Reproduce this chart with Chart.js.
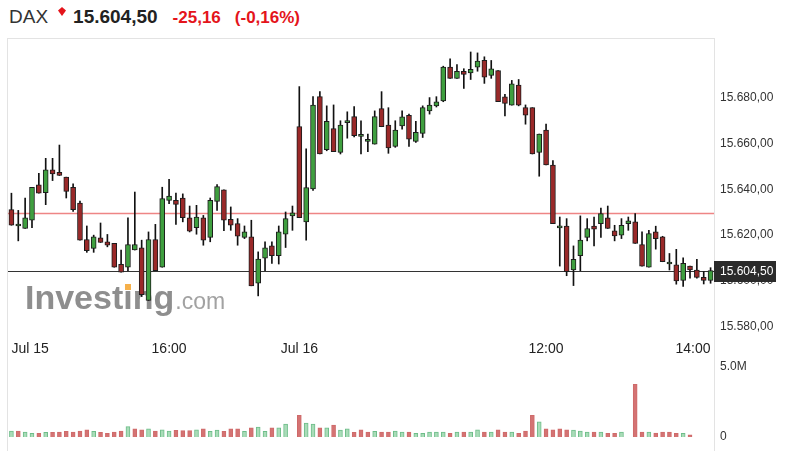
<!DOCTYPE html>
<html>
<head>
<meta charset="utf-8">
<title>DAX</title>
<script src="https://cdn.jsdelivr.net/npm/chart.js@4.4.1/dist/chart.umd.min.js"></script>
<style>
  html, body { margin: 0; padding: 0; background: #fff; }
  body { width: 788px; height: 451px; position: relative; overflow: hidden; font-family: "Liberation Sans", Arial, sans-serif; }
  #frame { position: absolute; left: 7px; top: 38px; width: 706px; height: 420px; border: 1px solid #e3e3e3; border-bottom: none; }
  #title { position: absolute; left: 9px; top: 6px; display: flex; align-items: baseline; white-space: nowrap; line-height: 22px; }
  #title .sym { font-size: 19px; color: #333; }
  #title .last { font-size: 19px; font-weight: bold; color: #222; margin-left: 25px; }
  #title .chg { font-size: 17px; font-weight: bold; color: #e4141b; margin-left: 15px; }
  #title .pct { margin-left: 14px; }
  #arrow { position: absolute; left: 58px; top: 7px; width: 8px; height: 9px; background: #e4141b;
           clip-path: polygon(50% 0, 100% 40%, 50% 100%, 0 40%); }
  canvas { position: absolute; left: 0; }
  #price { top: 0; }
  #vol { top: 352px; }
</style>
</head>
<body>
<div id="frame"></div>
<div id="title">
  <span class="sym">DAX</span>
  <span class="last">15.604,50</span>
  <span class="chg">-25,16</span>
  <span class="chg pct">(-0,16%)</span>
</div>
<div id="arrow"></div>
<canvas id="price" width="788" height="362"></canvas>
<canvas id="vol" width="788" height="99"></canvas>
<script>
// 5 minute candles
var times15 = ['14:05','14:10','14:15','14:20','14:25','14:30','14:35','14:40','14:45','14:50','14:55',
  '15:00','15:05','15:10','15:15','15:20','15:25','15:30','15:35','15:40','15:45','15:50','15:55',
  '16:00','16:05','16:10','16:15','16:20','16:25','16:30','16:35','16:40','16:45','16:50','16:55',
  '17:00','17:05','17:10','17:15','17:20','17:25','17:30'];
var times16 = ['09:00','09:05','09:10','09:15','09:20','09:25','09:30','09:35','09:40','09:45','09:50','09:55',
  '10:00','10:05','10:10','10:15','10:20','10:25','10:30','10:35','10:40','10:45','10:50','10:55',
  '11:00','11:05','11:10','11:15','11:20','11:25','11:30','11:35','11:40','11:45','11:50','11:55',
  '12:00','12:05','12:10','12:15','12:20','12:25','12:30','12:35','12:40','12:45','12:50','12:55',
  '13:00','13:05','13:10','13:15','13:20','13:25','13:30','13:35','13:40','13:45','13:50','13:55',
  '14:00'];

var open = [15631.1, 15624.0, 15622.9, 15626.5, 15642.0, 15638.5, 15648.5, 15647.4, 15645.3, 15640.9,
  15634.0, 15618.1, 15614.2, 15618.8, 15617.1, 15616.4, 15607.3, 15606.0, 15613.5, 15614.5,
  15591.5, 15618.1, 15606.0, 15635.2, 15635.2, 15636.2, 15627.5, 15623.3, 15627.5, 15619.0,
  15634.7, 15639.8, 15626.9, 15625.0, 15619.0, 15619.3, 15599.0, 15609.9, 15615.3, 15611.0,
  15620.4, 15628.4, 15667.4, 15625.8, 15640.2, 15680.4, 15657.3, 15666.5, 15656.1, 15669.1,
  15671.7, 15663.1, 15660.9, 15659.7, 15675.2, 15668.0, 15658.7, 15667.7, 15672.3, 15660.9,
  15664.4, 15674.2, 15676.4, 15678.5, 15693.3, 15688.4, 15691.5, 15690.8, 15693.3, 15696.3,
  15689.7, 15691.8, 15680.3, 15676.7, 15685.5, 15675.6, 15675.6, 15656.1, 15665.8, 15650.6,
  15623.2, 15624.0, 15604.8, 15611.0, 15619.0, 15624.0, 15625.0, 15627.5, 15621.9, 15620.0,
  15625.0, 15625.8, 15615.9, 15606.0, 15621.4, 15619.3, 15607.4, 15607.0, 15600.2, 15606.5,
  15604.8, 15601.6, 15600.2];
var high = [15638.3, 15630.8, 15636.2, 15640.9, 15647.0, 15653.5, 15653.5, 15659.3, 15645.3, 15642.4,
  15634.9, 15624.0, 15620.0, 15625.3, 15620.3, 15616.4, 15613.5, 15627.5, 15638.8, 15617.8,
  15621.4, 15624.7, 15640.9, 15644.3, 15638.3, 15638.0, 15632.7, 15633.0, 15628.6, 15636.2,
  15642.1, 15639.8, 15632.3, 15627.2, 15624.0, 15626.5, 15612.7, 15617.1, 15617.1, 15624.0,
  15630.1, 15632.7, 15684.8, 15657.6, 15680.4, 15682.6, 15676.4, 15676.8, 15669.9, 15673.8,
  15676.1, 15669.9, 15664.1, 15674.2, 15682.6, 15675.6, 15669.9, 15674.2, 15672.8, 15669.6,
  15676.4, 15680.0, 15680.4, 15693.7, 15696.9, 15694.4, 15692.6, 15699.9, 15699.5, 15697.8,
  15696.2, 15691.8, 15681.4, 15687.5, 15687.9, 15676.8, 15675.6, 15664.1, 15668.4, 15652.5,
  15627.9, 15627.2, 15615.3, 15628.4, 15627.2, 15627.9, 15631.8, 15632.7, 15624.3, 15627.2,
  15627.9, 15629.4, 15621.4, 15622.1, 15623.9, 15619.5, 15612.0, 15613.8, 15610.1, 15606.5,
  15609.4, 15604.1, 15605.8];
var low = [15624.3, 15617.5, 15622.9, 15623.3, 15638.3, 15633.3, 15643.8, 15646.0, 15636.2, 15630.4,
  15617.8, 15612.5, 15612.5, 15616.8, 15614.9, 15606.0, 15603.8, 15604.5, 15613.5, 15593.2,
  15591.5, 15604.5, 15606.0, 15633.7, 15624.7, 15625.8, 15621.4, 15620.4, 15615.6, 15617.1,
  15630.8, 15621.9, 15622.1, 15615.6, 15618.5, 15597.9, 15593.5, 15604.5, 15607.7, 15607.4,
  15614.6, 15622.1, 15627.6, 15617.8, 15639.5, 15655.4, 15656.8, 15656.4, 15655.4, 15662.3,
  15662.9, 15655.4, 15656.4, 15659.7, 15667.3, 15655.7, 15658.3, 15666.2, 15658.7, 15660.5,
  15662.6, 15672.8, 15675.9, 15678.2, 15688.4, 15688.4, 15684.0, 15687.9, 15691.5, 15686.2,
  15688.4, 15678.2, 15672.0, 15676.7, 15676.4, 15668.4, 15655.4, 15645.7, 15650.6, 15625.0,
  15606.5, 15602.3, 15598.0, 15604.5, 15617.5, 15615.3, 15619.0, 15622.9, 15617.5, 15618.5,
  15622.1, 15616.4, 15606.5, 15606.0, 15613.9, 15608.4, 15604.8, 15598.6, 15597.6, 15601.2,
  15601.2, 15598.7, 15599.0];
var close = [15624.3, 15624.5, 15627.5, 15640.9, 15638.3, 15648.5, 15646.7, 15646.0, 15639.1, 15631.1,
  15617.8, 15613.2, 15619.3, 15616.8, 15615.6, 15606.0, 15603.8, 15615.9, 15615.9, 15594.0,
  15618.1, 15604.5, 15635.9, 15637.0, 15633.4, 15627.6, 15621.7, 15627.9, 15617.8, 15635.2,
  15641.2, 15626.5, 15624.3, 15619.5, 15621.4, 15597.9, 15609.6, 15614.5, 15611.0, 15621.4,
  15627.2, 15629.7, 15627.6, 15640.7, 15676.7, 15655.4, 15669.6, 15656.4, 15668.0, 15669.6,
  15663.4, 15663.3, 15661.5, 15671.7, 15667.3, 15658.0, 15665.8, 15671.6, 15661.9, 15664.8,
  15675.6, 15676.7, 15678.2, 15693.3, 15688.4, 15691.5, 15690.1, 15692.3, 15695.9, 15688.9,
  15692.6, 15678.2, 15677.5, 15686.0, 15676.7, 15672.3, 15655.4, 15664.1, 15650.6, 15625.0,
  15623.2, 15604.1, 15609.4, 15617.8, 15622.9, 15622.6, 15629.4, 15622.9, 15619.7, 15624.3,
  15626.2, 15616.4, 15606.5, 15620.7, 15618.5, 15608.4, 15607.6, 15600.0, 15607.7, 15604.8,
  15601.6, 15600.2, 15604.5];

// volume in millions, 1 = green bar
var volume = [0.42, 0.42, 0.35, 0.26, 0.26, 0.33, 0.33, 0.35, 0.40, 0.35,
  0.42, 0.51, 0.40, 0.33, 0.26, 0.35, 0.42, 0.74, 0.58, 0.51,
  0.58, 0.42, 0.51, 0.42, 0.48, 0.46, 0.46, 0.51, 0.58, 0.40,
  0.49, 0.40, 0.58, 0.58, 0.40, 0.65, 0.71, 0.40, 0.65, 0.65,
  0.92, 0, 1.55, 0.99, 0.92, 0.65, 0.65, 0.85, 0.49, 0.58,
  0.34, 0.51, 0.35, 0.40, 0.35, 0.35, 0.42, 0.35, 0.35, 0.26,
  0.26, 0.35, 0.35, 0.35, 0.26, 0.35, 0.35, 0.35, 0.51, 0.35,
  0.35, 0.51, 0.35, 0.35, 0.26, 0.42, 1.55, 1.09, 0.58, 0.51,
  0.58, 0.51, 0.49, 0.42, 0.35, 0.35, 0.35, 0.26, 0.26, 0.35,
  0, 3.77, 0.35, 0.35, 0.28, 0.35, 0.35, 0.26, 0.26, 0.16,
  0, 0, 0];
var volumeUp = [1, 0, 1, 1, 0, 1, 0, 0, 0, 0,
  0, 0, 1, 0, 0, 0, 0, 1, 0, 0,
  1, 0, 1, 1, 0, 0, 0, 1, 0, 1,
  1, 0, 0, 0, 1, 0, 1, 1, 0, 1,
  1, 1, 0, 1, 1, 0, 1, 0, 1, 1,
  0, 0, 0, 1, 0, 0, 1, 1, 0, 1,
  1, 1, 1, 1, 0, 1, 0, 1, 1, 0,
  1, 0, 0, 1, 0, 0, 0, 1, 0, 0,
  0, 0, 1, 1, 1, 0, 1, 0, 0, 1,
  1, 0, 0, 1, 0, 0, 0, 0, 1, 0,
  0, 0, 0];

var priceTicks = [15580, 15600, 15620, 15640, 15660, 15680];
var volumeTicks = [0, 5];
var tickAt = ['Jul 15 14:05', 'Jul 15 16:00', 'Jul 16 09:00', 'Jul 16 12:00', 'Jul 16 14:00'];
var tickText = ['Jul 15', '16:00', 'Jul 16', '12:00', '14:00'];
var prevClose = 15629.66;
var lastPrice = 15604.50;

var categories = times15.map(function (t) { return 'Jul 15 ' + t; })
  .concat(times16.map(function (t) { return 'Jul 16 ' + t; }));

var FONT = '"Liberation Sans", Arial, sans-serif';
var GREEN = '#3f9f3f';
var RED = '#9a2929';

function fmtPrice(v) {
  var p = Number(v).toFixed(2).split('.');
  return p[0].replace(/\B(?=(\d{3})+(?!\d))/g, '.') + ',' + p[1];
}

// watermark, reference lines and last price tag
var overlay = {
  id: 'overlay',
  beforeDatasetsDraw: function (chart) {
    var ctx = chart.ctx, a = chart.chartArea, y = chart.scales.y;
    ctx.save();
    ctx.textAlign = 'left';
    ctx.textBaseline = 'alphabetic';
    ctx.font = 'bold 34px ' + FONT;
    ctx.fillStyle = '#8e8e8e';
    ctx.fillText('Investing', 25, 309);
    var wAll = ctx.measureText('Investing').width;
    var wPre = ctx.measureText('Invest').width;
    var wI = ctx.measureText('i').width;
    ctx.fillStyle = '#f6b04a';
    ctx.fillRect(25 + wPre + wI / 2 - 3, 284, 6, 6);
    ctx.font = '23px ' + FONT;
    ctx.fillStyle = '#a2a2a2';
    ctx.fillText('.com', 25 + wAll + 1, 309);

    [[prevClose, '#ee8585', 1.5], [lastPrice, '#333333', 1]].forEach(function (l) {
      var py = Math.round(y.getPixelForValue(l[0])) + 0.5;
      ctx.strokeStyle = l[1];
      ctx.lineWidth = l[2];
      ctx.beginPath();
      ctx.moveTo(a.left, py);
      ctx.lineTo(a.right, py);
      ctx.stroke();
    });
    ctx.restore();
  },
  afterDraw: function (chart) {
    var ctx = chart.ctx, a = chart.chartArea, y = chart.scales.y;
    var py = Math.round(y.getPixelForValue(lastPrice));
    ctx.save();
    ctx.fillStyle = '#2b2b2b';
    ctx.fillRect(a.right, py - 10, 62, 21);
    ctx.fillStyle = '#fff';
    ctx.font = '12px ' + FONT;
    ctx.textBaseline = 'middle';
    ctx.textAlign = 'left';
    ctx.fillText(fmtPrice(lastPrice), a.right + 6, py + 1);
    ctx.restore();
  }
};

new Chart(document.getElementById('price'), {
  type: 'bar',
  data: {
    labels: categories,
    datasets: [{
      label: 'body',
      data: categories.map(function (_, i) { return [open[i], close[i]]; }),
      backgroundColor: close.map(function (c, i) { return c >= open[i] ? GREEN : RED; }),
      borderColor: '#1c1c1c',
      borderWidth: 1,
      borderSkipped: false,
      barThickness: 5,
      minBarLength: 2,
      grouped: false,
      order: 0
    }, {
      label: 'wick',
      data: categories.map(function (_, i) { return [low[i], high[i]]; }),
      backgroundColor: '#111',
      barThickness: 1,
      grouped: false,
      order: 1
    }]
  },
  options: {
    responsive: false,
    animation: false,
    layout: { padding: { top: 38, left: 8, right: 0, bottom: 0 } },
    plugins: { legend: { display: false }, tooltip: { enabled: false } },
    scales: {
      x: {
        offset: true,
        grid: { display: false, drawTicks: false },
        border: { display: false },
        afterBuildTicks: function (s) {
          s.ticks = tickAt.map(function (t) { return { value: categories.indexOf(t) }; });
        },
        afterFit: function (s) { s.height = 26; },
        ticks: {
          autoSkip: false,
          maxRotation: 0,
          align: 'inner',
          padding: 5,
          color: '#222',
          font: { family: FONT, size: 14 },
          callback: function (v) { return tickText[tickAt.indexOf(categories[v])]; }
        }
      },
      y: {
        position: 'right',
        min: 15576,
        max: 15706,
        grid: { display: false, drawTicks: false },
        border: { display: false },
        afterBuildTicks: function (s) {
          s.ticks = priceTicks.map(function (v) { return { value: v }; });
        },
        afterFit: function (s) { s.width = 74; },
        ticks: {
          padding: 6,
          color: '#333',
          font: { family: FONT, size: 12 },
          callback: function (v) { return fmtPrice(v); }
        }
      }
    }
  },
  plugins: [overlay]
});

new Chart(document.getElementById('vol'), {
  type: 'bar',
  data: {
    labels: categories,
    datasets: [{
      label: 'volume',
      data: volume,
      backgroundColor: volumeUp.map(function (u) { return u ? '#a9dcb8' : '#d47373'; }),
      borderColor: volumeUp.map(function (u) { return u ? '#6dbd89' : '#cf6a6a'; }),
      borderWidth: 1,
      barThickness: 4
    }]
  },
  options: {
    responsive: false,
    animation: false,
    layout: { padding: { top: 10, left: 8, right: 0, bottom: 14 } },
    plugins: { legend: { display: false }, tooltip: { enabled: false } },
    scales: {
      x: { display: false, offset: true },
      y: {
        position: 'right',
        min: 0,
        max: 5.137,
        grid: { display: false, drawTicks: false },
        border: { display: false },
        afterBuildTicks: function (s) {
          s.ticks = volumeTicks.map(function (v) { return { value: v }; });
        },
        afterFit: function (s) { s.width = 74; },
        ticks: {
          padding: 6,
          color: '#333',
          font: { family: FONT, size: 12 },
          callback: function (v) { return v === 0 ? '0' : v.toFixed(1) + 'M'; }
        }
      }
    }
  }
});
</script>
</body>
</html>
